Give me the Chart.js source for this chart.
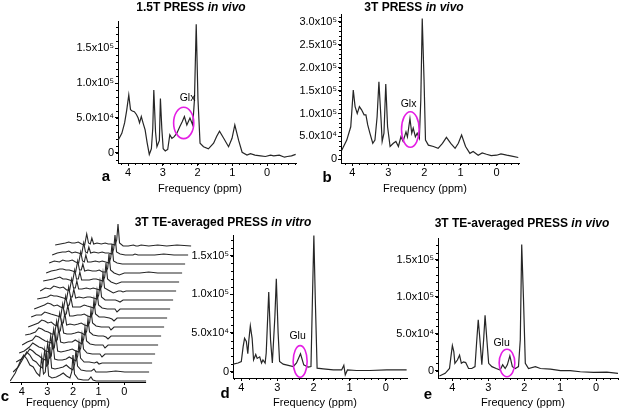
<!DOCTYPE html>
<html>
<head>
<meta charset="utf-8">
<script src="https://cdn.jsdelivr.net/npm/chart.js@4.4.0/dist/chart.umd.min.js"></script>
<style>
  html, body { margin: 0; padding: 0; background: #fff; }
  #fig { position: relative; width: 619px; height: 410px; overflow: hidden;
         font-family: "Liberation Sans", Arial, sans-serif; color: #000; }
  #fig canvas { position: absolute; left: 0; top: 0; }
  .t { position: absolute; white-space: nowrap; transform: translate(-50%, -50%); line-height: 1; }
  .title { font-weight: bold; font-size: 12px; }
  .xl { font-size: 11px; }
  .lt { font-weight: bold; font-size: 15px; }
</style>
</head>
<body>
<div id="fig">
  <canvas id="ca" width="619" height="410"></canvas>
  <canvas id="cb" width="619" height="410"></canvas>
  <canvas id="cc" width="619" height="410"></canvas>
  <canvas id="cd" width="619" height="410"></canvas>
  <canvas id="ce" width="619" height="410"></canvas>

  <div class="t title" style="left:191px;top:7px">1.5T PRESS <i>in vivo</i></div>
  <div class="t title" style="left:414px;top:7px">3T PRESS <i>in vivo</i></div>
  <div class="t title" style="left:223px;top:222px">3T TE-averaged PRESS <i>in vitro</i></div>
  <div class="t title" style="left:522px;top:223px">3T TE-averaged PRESS <i>in vivo</i></div>

  <div class="t xl" style="left:200px;top:188px">Frequency (ppm)</div>
  <div class="t xl" style="left:425px;top:188px">Frequency (ppm)</div>
  <div class="t xl" style="left:68px;top:402px">Frequency (ppm)</div>
  <div class="t xl" style="left:315px;top:402px">Frequency (ppm)</div>
  <div class="t xl" style="left:523px;top:402px">Frequency (ppm)</div>

  <div class="t lt" style="left:106px;top:175px">a</div>
  <div class="t lt" style="left:327px;top:176px">b</div>
  <div class="t lt" style="left:5px;top:395px">c</div>
  <div class="t lt" style="left:225px;top:392px">d</div>
  <div class="t lt" style="left:428px;top:393px">e</div>
</div>
<script>
// signal values are in units of 1e4 (a, b, d, e); panel c is arbitrary units
const A_PPM = [4.29, 4.18, 4.10, 4.04, 3.98, 3.93, 3.88, 3.82, 3.76, 3.71, 3.67, 3.62, 3.57, 3.51, 3.45, 3.39, 3.33, 3.29, 3.26, 3.21, 3.17, 3.10, 3.07, 3.03, 2.99, 2.93, 2.86, 2.80, 2.74, 2.68, 2.60, 2.51, 2.44, 2.38, 2.31, 2.22, 2.14, 2.09, 2.04, 1.99, 1.93, 1.83, 1.69, 1.54, 1.45, 1.37, 1.25, 1.11, 1.01, 0.93, 0.82, 0.72, 0.58, 0.48, 0.35, 0.19, 0.05, -0.10, -0.19, -0.35, -0.50, -0.58, -0.70, -0.82];
const A_VAL = [1.8, 2.8, 4.3, 6.1, 8.3, 6.2, 6.0, 5.9, 5.5, 5.0, 4.3, 5.2, 4.3, 3.3, 1.4, -0.2, 0.6, 3.5, 9.0, 3.0, 0.9, 1.8, 7.8, 3.5, 0.6, 0.3, 0.5, 2.6, 2.1, 2.3, 2.8, 3.8, 4.5, 5.2, 4.0, 5.0, 4.0, 7.7, 18.4, 7.7, 1.4, 0.9, 0.6, 1.4, 2.4, 3.1, 2.1, 0.9, 2.1, 4.0, 1.8, 0.1, -0.3, -0.1, -0.3, -0.4, -0.5, -0.3, -0.4, -0.3, -0.6, -0.5, -0.4, -0.2];

const B_PPM = [4.29, 4.15, 4.04, 3.97, 3.92, 3.86, 3.80, 3.74, 3.67, 3.62, 3.57, 3.51, 3.43, 3.37, 3.31, 3.26, 3.20, 3.17, 3.12, 3.07, 3.02, 2.95, 2.86, 2.79, 2.72, 2.65, 2.59, 2.51, 2.47, 2.40, 2.35, 2.31, 2.25, 2.20, 2.14, 2.10, 2.06, 2.01, 1.97, 1.89, 1.75, 1.62, 1.50, 1.39, 1.27, 1.15, 1.06, 0.97, 0.86, 0.74, 0.65, 0.51, 0.40, 0.28, 0.15, 0.0, -0.12, -0.28, -0.42, -0.60];
const B_VAL = [2.0, 4.2, 7.1, 15.1, 11.5, 10.0, 11.5, 10.8, 9.7, 9.7, 7.5, 5.7, 3.5, 4.2, 9.3, 16.9, 8.6, 3.9, 5.7, 16.4, 7.1, 2.8, 3.5, 3.9, 2.8, 4.9, 3.9, 6.0, 4.9, 8.9, 5.7, 6.8, 4.9, 5.7, 4.6, 12.9, 30.7, 17.3, 4.2, 3.1, 2.8, 2.4, 3.5, 4.8, 3.5, 2.4, 3.5, 5.3, 2.8, 1.3, 1.7, 0.9, 1.4, 1.1, 0.8, 0.9, 1.2, 0.9, 0.7, 0.4];

const D_PPM = [4.23, 4.09, 4.00, 3.95, 3.91, 3.86, 3.82, 3.79, 3.75, 3.70, 3.66, 3.60, 3.56, 3.49, 3.44, 3.40, 3.34, 3.31, 3.24, 3.19, 3.14, 3.07, 3.03, 2.98, 2.94, 2.84, 2.70, 2.56, 2.47, 2.36, 2.27, 2.15, 2.07, 2.03, 1.99, 1.95, 1.90, 1.73, 1.45, 1.22, 1.16, 1.12, 1.06, 0.81, 0.44, -0.03, -0.58];
const D_VAL = [0.95, 1.1, 1.3, 3.2, 4.3, 3.9, 2.3, 4.1, 5.9, 4.3, 1.5, 2.2, 1.7, 1.9, 1.1, 1.5, 1.1, 2.4, 10.3, 4.1, 1.1, 7.1, 12.0, 5.0, 1.3, 0.95, 0.8, 0.65, 1.1, 2.3, 0.86, 0.56, 0.65, 9.3, 17.6, 9.3, 0.43, 0.34, 0.2, 0.2, 0.8, -0.43, 0.2, 0.13, 0.13, 0.2, 0.2];

const E_PPM = [4.36, 4.20, 4.08, 4.04, 4.00, 3.96, 3.93, 3.86, 3.80, 3.75, 3.69, 3.63, 3.55, 3.46, 3.37, 3.32, 3.28, 3.24, 3.18, 3.13, 3.09, 3.04, 2.99, 2.90, 2.78, 2.67, 2.60, 2.53, 2.47, 2.40, 2.33, 2.25, 2.16, 2.11, 2.07, 2.02, 1.97, 1.88, 1.69, 1.55, 1.27, 0.99, 0.72, 0.44, 0.07, -0.30, -0.63];
const E_VAL = [-0.73, -0.36, 0.3, 1.9, 3.4, 2.6, 1.0, 1.45, 2.1, 1.0, 1.2, 1.1, 0.3, 0.3, 0.55, 4.2, 6.9, 4.6, 0.8, 4.2, 7.5, 4.2, 1.0, 0.55, 0.3, 0.1, 0.8, 0.3, 0.8, 2.0, 0.55, 0.3, 0.55, 4.2, 17.1, 9.6, 1.0, 0.3, 0.55, 0.3, 0.2, 0.0, 0.0, -0.14, -0.23, -0.2, -0.36];

// panel c: 16 TE steps, front (shortest TE) first
const C_PPM = [4.45, 4.25, 4.05, 3.92, 3.8, 3.68, 3.55, 3.42, 3.3, 3.22, 3.15, 3.08, 3.02, 2.95, 2.82, 2.65, 2.5, 2.38, 2.25, 2.12, 2.05, 2.0, 1.94, 1.8, 1.6, 1.4, 1.3, 1.22, 1.1, 0.8, 0.45, 0.1, -0.3, -0.85];
const C_TRACES = [
  [0, 8, 20, 26, 22, 16, 14, 8, 5, 24, 7, 9, 28, 5, 3, 4, 6, 8, 5, 3, 9, 26, 7, 2, 1, 1, 4, 1, 0, 0, 0, 0, 0, 0],
  [0, 5, 14, 20, 17, 12, 10, 6, 4, 22, 6, 8, 25, 4, 3, 4, 5, 7, 4, 2, 8, 22, 6, 2, 1, 1, 3, 0, 0, 0, 1, 0, 0, 0],
  [1, 4, 9, 14, 12, 9, 7, 4, 3, 20, 5, 7, 22, 4, 3, 3, 4, 6, 4, 2, 7, 20, 5, 1, 1, 0, 1, -1, 0, 0, 0, 0, 0, 0],
  [1, 3, 7, 11, 9, 7, 6, 3, 2, 18, 5, 6, 19, 3, 2, 3, 4, 5, 3, 2, 6, 19, 5, 1, 0, 0, 0, -3, 0, 0, 0, 0, 0, 0],
  [0, 3, 5, 9, 8, 6, 4, 3, 2, 16, 4, 5, 17, 3, 2, 3, 3, 5, 3, 1, 6, 18, 4, 1, 0, 0, 0, -3, 0, 0, 0, 0, 0, 0],
  [1, 2, 4, 8, 7, 5, 4, 2, 2, 15, 4, 5, 15, 3, 2, 2, 3, 4, 3, 1, 5, 17, 4, 1, 0, 0, -1, -3, 0, 0, 0, 0, 0, 0],
  [0, 2, 4, 7, 6, 4, 5, 2, 1, 14, 4, 4, 14, 2, 3, 2, 3, 4, 2, 1, 5, 17, 4, 1, 0, 0, 0, -3, 0, 0, 0, 0, 0, 0],
  [1, 3, 3, 6, 5, 4, 3, 2, 1, 14, 3, 4, 13, 2, 2, 3, 3, 4, 2, 1, 5, 18, 4, 1, 1, 0, -1, -3, 0, 0, 0, 0, 0, 0],
  [0, 2, 4, 6, 5, 3, 4, 2, 1, 13, 3, 4, 12, 2, 2, 2, 4, 3, 2, 1, 5, 18, 4, 1, 0, 0, 0, -3, 0, 0, 0, 0, 0, 0],
  [1, 2, 3, 5, 4, 4, 3, 2, 1, 13, 3, 3, 11, 2, 3, 2, 3, 3, 2, 1, 5, 18, 3, 0, 0, 0, -1, -2, 0, 0, 0, 0, 0, 0],
  [0, 3, 2, 5, 4, 3, 4, 1, 1, 12, 3, 3, 10, 2, 2, 3, 2, 3, 2, 1, 5, 18, 3, 1, -2, 0, 0, -1, 0, 0, 0, 0, 0, 0],
  [1, 2, 3, 4, 5, 3, 3, 2, 1, 12, 3, 3, 10, 2, 2, 2, 3, 3, 2, 1, 5, 19, 3, 0, -2, 0, 0, 0, 0, 0, 0, 0, 0, 0],
  [0, 2, 3, 4, 4, 3, 3, 2, 1, 12, 3, 3, 9, 2, 3, 2, 2, 3, 1, 1, 5, 19, 3, 0, -2, 0, 0, 0, 0, 0, 1, 0, 0, 0],
  [1, 3, 2, 4, 3, 3, 4, 2, 1, 12, 3, 2, 9, 2, 2, 3, 2, 3, 2, 1, 6, 20, 3, 1, 0, 0, 0, 0, 0, 0, 0, 0, 0, 0],
  [0, 2, 3, 3, 4, 2, 3, 2, 1, 12, 3, 2, 8, 2, 3, 2, 3, 2, 2, 1, 6, 20, 3, 1, 0, 0, 0, 1, 0, 0, 0, 1, 0, 0],
  [1, 2, 3, 4, 3, 3, 4, 2, 1, 12, 3, 2, 8, 2, 3, 2, 3, 2, 2, 1, 6, 22, 3, 0, 0, 1, 0, 0, 1, 0, 1, 0, 1, 0]
];
const C_TICKS = [4, 3, 2, 1, 0];

// Glx / Glu annotations: [label, ppm, value, half-width ppm, half-height, label ppm, label value]
const MARK_A = ['Glx', 2.40, 4.3, 0.29, 2.24, 2.29, 7.9];
const MARK_B = ['Glx', 2.39, 6.5, 0.244, 3.88, 2.44, 12.0];
const MARK_D = ['Glu', 2.37, 1.3, 0.194, 2.05, 2.44, 4.64];
const MARK_E = ['Glu', 2.48, 1.04, 0.218, 1.86, 2.63, 3.71];

Chart.defaults.font.family = '"Liberation Sans", Arial, sans-serif';
Chart.defaults.font.size = 11;
Chart.defaults.color = '#000';

const W = 619, H = 410, YW = 60, XH = 20;
const LINE = '#262626';

function fmtY(v) {
  if (v === 0) return '0';
  if (v < 10) return v.toFixed(1) + 'x10⁴';
  return (v / 10).toFixed(1) + 'x10⁵';
}

const markPlugin = {
  id: 'mark',
  afterDatasetsDraw(chart, args, opts) {
    const m = opts.m;
    if (!m) return;
    const {ctx, scales: {x, y}} = chart;
    const cx = x.getPixelForValue(m[1]), cy = y.getPixelForValue(m[2]);
    const rx = Math.abs(x.getPixelForValue(m[1] + m[3]) - cx);
    const ry = Math.abs(y.getPixelForValue(m[2] + m[4]) - cy);
    ctx.save();
    ctx.strokeStyle = '#e41ee4';
    ctx.lineWidth = 1.6;
    ctx.beginPath();
    ctx.ellipse(cx, cy, rx, ry, 0, 0, Math.PI * 2);
    ctx.stroke();
    ctx.fillStyle = '#000';
    ctx.font = '10.5px "Liberation Sans", Arial, sans-serif';
    ctx.textAlign = 'center';
    ctx.textBaseline = 'middle';
    ctx.fillText(m[0], x.getPixelForValue(m[5]), y.getPixelForValue(m[6]));
    ctx.restore();
  }
};

// small minor ticks along the axes
const minorPlugin = {
  id: 'minor',
  afterDraw(chart, args, opts) {
    if (!opts.xs) return;
    const {ctx, chartArea: ca, scales: {x, y}} = chart;
    ctx.save();
    ctx.strokeStyle = '#000';
    ctx.lineWidth = 1;
    ctx.beginPath();
    for (let v = Math.ceil(x.min / opts.xs) * opts.xs; v <= x.max; v += opts.xs) {
      const px = Math.round(x.getPixelForValue(v)) + 0.5;
      ctx.moveTo(px, ca.bottom); ctx.lineTo(px, ca.bottom + 2);
    }
    if (opts.ys) {
      for (let v = Math.ceil(y.min / opts.ys) * opts.ys; v <= y.max; v += opts.ys) {
        const py = Math.round(y.getPixelForValue(v)) + 0.5;
        ctx.moveTo(ca.left, py); ctx.lineTo(ca.left - 2, py);
      }
    }
    ctx.stroke();
    ctx.restore();
  }
};

function axisX(xr) {
  return {
    type: 'linear', reverse: true, min: xr[1], max: xr[0],
    afterFit: s => { s.height = XH; },
    grid: { drawOnChartArea: false, tickLength: 3, color: '#000' },
    border: { color: '#000' },
    ticks: { stepSize: 1, includeBounds: false, autoSkip: false, maxRotation: 0, padding: 0,
             callback: v => String(v) }
  };
}

function spectrum(id, box, xr, yr, ppm, vals, mark) {
  return new Chart(document.getElementById(id), {
    type: 'line',
    data: {
      datasets: [{
        data: ppm.map((p, i) => ({x: p, y: vals[i]})),
        borderColor: LINE, borderWidth: 1.2, pointRadius: 0, tension: 0, fill: false
      }]
    },
    options: {
      responsive: false, animation: false,
      layout: { padding: { left: box[0] - YW, top: box[1], right: W - box[2], bottom: H - box[3] - XH } },
      plugins: { legend: { display: false }, tooltip: { enabled: false },
                 mark: { m: mark }, minor: { xs: 0.2, ys: 1 } },
      scales: {
        x: axisX(xr),
        y: {
          type: 'linear', min: yr[0], max: yr[1],
          afterFit: s => { s.width = YW; },
          grid: { drawOnChartArea: false, tickLength: 3, color: '#000' },
          border: { color: '#000' },
          ticks: { stepSize: 5, includeBounds: false, padding: 1, callback: fmtY }
        }
      }
    },
    plugins: [markPlugin, minorPlugin]
  });
}

spectrum('ca', [118, 21, 296, 163], [4.29, -0.83], [-1.43, 18.86], A_PPM, A_VAL, MARK_A);
spectrum('cb', [341, 14, 519, 163], [4.31, -0.62], [-0.8, 31.7], B_PPM, B_VAL, MARK_B);
spectrum('cd', [233, 235, 407, 378], [4.23, -0.59], [-0.84, 17.68], D_PPM, D_VAL, MARK_D);
spectrum('ce', [438, 238, 618, 378], [4.40, -0.61], [-0.99, 17.98], E_PPM, E_VAL, MARK_E);

// panel c: waterfall, each later TE shifted right and up
const C_DX = 0.117, C_DY = 9;
const frontAxis = {
  id: 'frontAxis',
  afterDraw(chart) {
    const {ctx, chartArea: ca, scales: {x}} = chart;
    ctx.save();
    ctx.strokeStyle = '#000';
    ctx.lineWidth = 1;
    ctx.beginPath();
    ctx.moveTo(x.getPixelForValue(C_PPM[0]), ca.bottom + 0.5);
    ctx.lineTo(x.getPixelForValue(C_PPM[C_PPM.length - 1]), ca.bottom + 0.5);
    ctx.stroke();
    ctx.restore();
  }
};
const cx = axisX([4.456, -2.64]);
cx.border = { display: false };
cx.afterBuildTicks = s => { s.ticks = s.ticks.filter(t => C_TICKS.includes(t.value)); };
new Chart(document.getElementById('cc'), {
  type: 'line',
  data: {
    datasets: C_TRACES.map((vals, k) => ({
      data: C_PPM.map((p, i) => ({x: p - k * C_DX, y: vals[i] + k * C_DY})),
      borderColor: LINE, borderWidth: 1.1, pointRadius: 0, tension: 0, fill: false
    }))
  },
  options: {
    responsive: false, animation: false,
    layout: { padding: { left: 10, top: 215, right: W - 192, bottom: H - 382 - XH } },
    plugins: { legend: { display: false }, tooltip: { enabled: false } },
    scales: { x: cx, y: { display: false, min: -1, max: 166 } }
  },
  plugins: [frontAxis]
});
</script>
</body>
</html>
